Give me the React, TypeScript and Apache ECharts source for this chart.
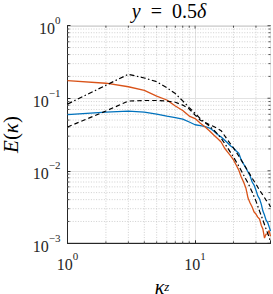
import React, { useEffect, useRef } from "react";
import * as echarts from "echarts";

// wavenumbers of the two measured spectra
const kz = [
  1, 2, 3, 4, 5, 6, 7, 8, 9, 10, 11, 12, 13, 14, 15, 16, 17, 18, 19, 20,
  21, 22, 23, 24, 25, 26, 27, 28, 29, 30, 31, 32, 33, 34, 35, 36, 37, 38, 39,
];
const orangeE = [
  0.175, 0.161, 0.144, 0.128, 0.107, 0.0945, 0.078, 0.0676, 0.0568, 0.0525,
  0.0451, 0.0401, 0.0353, 0.0311, 0.0278, 0.0249, 0.0206, 0.0181, 0.016, 0.0141,
  0.012, 0.0102, 0.0082, 0.007, 0.0058, 0.0042, 0.0036, 0.00316, 0.0027, 0.00253,
  0.0023, 0.00216, 0.00178, 0.00157, 0.00118, 0.00134, 0.00135, 0.0015, 0.00125,
];
const blueE = [
  0.0596, 0.0645, 0.0666, 0.0645, 0.0605, 0.0568, 0.0542, 0.0516, 0.047, 0.0431,
  0.042, 0.0407, 0.0388, 0.0353, 0.0316, 0.0292, 0.0265, 0.0241, 0.0219, 0.0206,
  0.0187, 0.0175, 0.0141, 0.0124, 0.0109, 0.0096, 0.0085, 0.007, 0.00635, 0.0054,
  0.0045, 0.0041, 0.00347, 0.00278, 0.00245, 0.00209, 0.00195, 0.0017, 0.00148,
];
// wavenumbers of the two model curves
const kModel = [
  1, 2, 3, 4, 5, 6, 7, 8, 9, 10, 11, 12, 13, 14, 15, 16, 18, 20, 22, 24, 26,
  28, 30, 32, 34, 36, 38, 39,
];
const dashDotE = [
  0.083, 0.151, 0.214, 0.19, 0.169, 0.14, 0.116, 0.0918, 0.0744, 0.0617, 0.0523,
  0.046, 0.041, 0.0364, 0.0321, 0.0282, 0.0206, 0.01545, 0.0116, 0.00873,
  0.00676, 0.00508, 0.00382, 0.00278, 0.00209, 0.00157, 0.00122, 0.00104,
];
const dashedE = [
  0.0401, 0.0666, 0.0915, 0.093, 0.093, 0.0915, 0.088, 0.0805, 0.071, 0.0586,
  0.0497, 0.0462, 0.043, 0.0407, 0.0382, 0.0357, 0.0265, 0.0206, 0.016, 0.0124,
  0.0099, 0.0079, 0.00655, 0.0054, 0.00462, 0.00394, 0.00347, 0.00316,
];

// axis ranges and grid values
const xRange = [1, 39];
const yRange = [0.001, 1];
const xMinor = [2, 3, 4, 5, 6, 7, 8, 9, 20, 30];
const xMajor = [1, 10];
const yMinor = [
  0.002, 0.003, 0.004, 0.005, 0.006, 0.007, 0.008, 0.009,
  0.02, 0.03, 0.04, 0.05, 0.06, 0.07, 0.08, 0.09,
  0.2, 0.3, 0.4, 0.5, 0.6, 0.7, 0.8, 0.9,
];
const yMajor = [0.001, 0.01, 0.1, 1];

const SERIF = "'Liberation Serif', 'DejaVu Serif', serif";
const AX = "#262626";

const zip = (xs: number[], ys: number[]) => xs.map((x, i) => [x, ys[i]]);

const expLabel = (v: number) => {
  const l = Math.log10(v);
  const e = Math.round(l);
  if (Math.abs(l - e) > 1e-6) return "";
  const s = e < 0 ? "\u2212" + -e : String(e);
  return `{b|10}{s|${s}}`;
};

const labelRich = {
  b: { fontFamily: SERIF, fontSize: 16, color: AX, lineHeight: 22, verticalAlign: "bottom" },
  s: { fontFamily: SERIF, fontSize: 11, color: AX, lineHeight: 12, verticalAlign: "top" },
};

export default function App() {
  const ref = useRef<HTMLDivElement>(null);
  useEffect(() => {
    if (!ref.current) return;
    const chart = echarts.init(ref.current, undefined, { renderer: "svg" });
    const option: any = {
      animation: false,
      backgroundColor: "#ffffff",
      graphic: [
        {
          type: "text",
          x: 169,
          y: 11,
          style: {
            text: "{i|y}{r|\u2002=\u20020.5}{i|\u03b4}",
            align: "center",
            verticalAlign: "middle",
            rich: {
              i: { fontFamily: SERIF, fontStyle: "italic", fontSize: 20, fill: "#000" },
              r: { fontFamily: SERIF, fontSize: 20, fill: "#000" },
            },
          },
        },
      ],
      grid: {
        left: 67.5,
        right: 2.5,
        top: 25.7,
        bottom: 50.7,
        containLabel: false,
        outerBoundsMode: "none",
        show: true,
        borderColor: AX,
        borderWidth: 1,
        backgroundColor: "transparent",
      },
      xAxis: {
        type: "log",
        logBase: 10,
        min: xRange[0],
        max: xRange[1],
        axisLine: { show: true, lineStyle: { color: AX, width: 1 } },
        axisTick: { show: true, inside: true, length: 3, lineStyle: { color: AX } },
        splitLine: { show: true, lineStyle: { color: "#e2e2e2", width: 1 } },
        axisLabel: { formatter: expLabel, rich: labelRich, margin: 7 },
        name: "{i|\u03ba}{z|z}",
        nameLocation: "middle",
        nameGap: 22,
        nameTextStyle: {
          padding: [0, 14, 0, 0],
          rich: {
            i: { fontFamily: SERIF, fontStyle: "italic", fontSize: 20, color: "#000", lineHeight: 16, verticalAlign: "top" },
            z: { fontFamily: SERIF, fontStyle: "italic", fontSize: 13, color: "#000", lineHeight: 8, verticalAlign: "bottom" },
          },
        },
      },
      yAxis: {
        type: "log",
        logBase: 10,
        min: yRange[0],
        max: yRange[1],
        axisLine: { show: true, lineStyle: { color: AX, width: 1 } },
        axisTick: { show: true, inside: true, length: 3, lineStyle: { color: AX } },
        splitLine: { show: true, lineStyle: { color: "#e2e2e2", width: 1 } },
        axisLabel: { formatter: expLabel, rich: labelRich, margin: 7 },
        name: "{i|E}{r|(}{i|\u03ba}{r|)}",
        nameLocation: "middle",
        nameRotate: 90,
        nameGap: 45,
        nameTextStyle: {
          rich: {
            i: { fontFamily: SERIF, fontStyle: "italic", fontSize: 21, color: "#000" },
            r: { fontFamily: SERIF, fontSize: 21, color: "#000" },
          },
        },
      },
      series: [
        {
          type: "custom",
          z: 1,
          silent: true,
          clip: false,
          data: [[xRange[0], yRange[0]]],
          renderItem: (_p: any, api: any) => {
            const [x0, y0] = api.coord([xRange[0], yRange[0]]);
            const [x1, y1] = api.coord([xRange[1], yRange[1]]);
            const ch: any[] = [];
            const minor = { stroke: "#c4c4c4", lineWidth: 0.8, lineDash: [1, 1.6] };
            const tick = { stroke: AX, lineWidth: 0.8 };
            const ln = (a: number, b: number, c: number, d: number, st: any) => ({
              type: "line",
              shape: { x1: a, y1: b, x2: c, y2: d },
              style: st,
            });
            for (const v of xMinor) {
              const px = api.coord([v, yRange[0]])[0];
              ch.push(ln(px, y0, px, y1, minor));
              ch.push(ln(px, y0, px, y0 - 2, tick));
              ch.push(ln(px, y1, px, y1 + 2, tick));
            }
            for (const v of xMajor) {
              const px = api.coord([v, yRange[0]])[0];
              ch.push(ln(px, y1, px, y1 + 3, tick));
            }
            for (const v of yMinor) {
              const py = api.coord([xRange[0], v])[1];
              ch.push(ln(x0, py, x1, py, minor));
              ch.push(ln(x0, py, x0 + 2, py, tick));
              ch.push(ln(x1, py, x1 - 2, py, tick));
            }
            for (const v of yMajor) {
              const py = api.coord([xRange[0], v])[1];
              ch.push(ln(x1, py, x1 - 3, py, tick));
            }
            return { type: "group", children: ch };
          },
        },
        {
          type: "line",
          z: 3,
          data: zip(kz, blueE),
          showSymbol: false,
          symbol: "none",
          lineStyle: { color: "#0072BD", width: 1.3 },
        },
        {
          type: "line",
          z: 3,
          data: zip(kz, orangeE),
          showSymbol: false,
          symbol: "none",
          lineStyle: { color: "#D95319", width: 1.3 },
        },
        {
          type: "line",
          z: 4,
          data: zip(kModel, dashDotE),
          showSymbol: false,
          symbol: "none",
          lineStyle: { color: "#000", width: 1.2, type: [5, 2.5, 1.5, 2.5] },
        },
        {
          type: "line",
          z: 4,
          data: zip(kModel, dashedE),
          showSymbol: false,
          symbol: "none",
          lineStyle: { color: "#000", width: 1.2, type: [4.5, 3] },
        },
      ],
    };
    chart.setOption(option);
    return () => chart.dispose();
  }, []);
  return (
    <div
      ref={ref}
      style={{ position: "absolute", left: 0, top: 0, width: 273, height: 294 }}
    />
  );
}
